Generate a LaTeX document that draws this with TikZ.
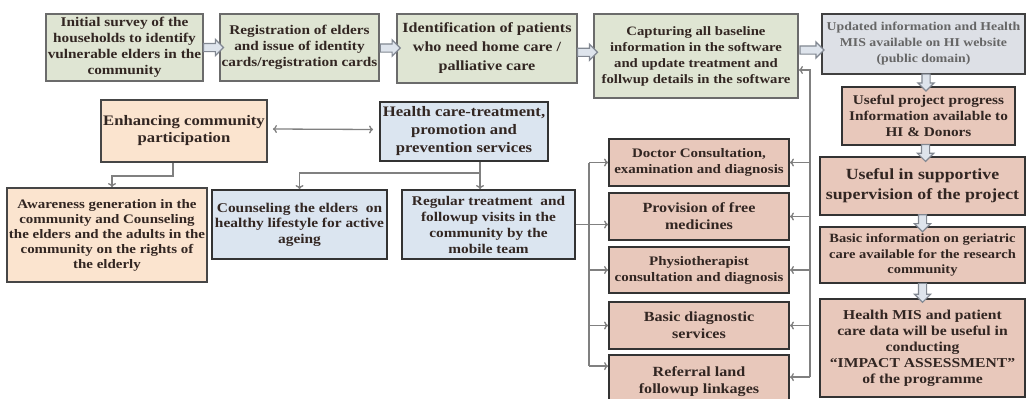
\documentclass[tikz,border=0pt]{standalone}
\usepackage{fontspec}
\setmainfont{Liberation Serif}[FakeStretch=1.15]
\usetikzlibrary{shapes.arrows,arrows.meta,calc}
\definecolor{SurveyGreen}{RGB}{223,229,211}
\definecolor{WebGrey}{RGB}{221,224,230}
\definecolor{ServPink}{RGB}{232,200,187}
\definecolor{CommPeach}{RGB}{251,228,207}
\definecolor{CareBlue}{RGB}{219,229,240}
\definecolor{EdgeGrey}{RGB}{70,70,70}
\definecolor{LineGrey}{RGB}{128,128,128}
\definecolor{FatFill}{RGB}{222,228,236}
\definecolor{FatEdge}{RGB}{130,136,146}
\definecolor{InkDark}{RGB}{50,38,34}

\begin{document}
\begin{tikzpicture}[x=1pt, y=-1pt, >={To[length=4pt,width=8pt]},
  fs/.style 2 args={font=\bfseries\fontsize{#1}{#2}\selectfont},
  box/.style={draw=EdgeGrey, line width=1.8pt, align=center, inner sep=2pt, text=InkDark, fs={13.3}{16}},
  greenbox/.style={box, fill=SurveyGreen, draw=EdgeGrey!80},
  webbox/.style={box, fill=WebGrey, draw=black!75, text=black!60},
  pinkbox/.style={box, fill=ServPink, draw=black!80},
  peachbox/.style={box, fill=CommPeach},
  bluebox/.style={box, fill=CareBlue, draw=black!80},
  conn/.style={draw=LineGrey, line width=1.3pt},
  fatarrow/.style={single arrow, draw=FatEdge, fill=FatFill, line width=1.2pt, minimum height=20pt, inner sep=3.5pt, text height=0pt, text depth=0pt, text width=0pt, single arrow head extend=4pt}]
\fill[white] (0,0) rectangle (1029,399);
\useasboundingbox (0,0) rectangle (1029,399);
\clip (0,0) rectangle (1029,399);

% top row
\node[greenbox, minimum width=155pt, minimum height=67pt] (init) at (124.5,47.5) {Initial survey of the\\households to identify\\vulnerable elders in the\\community};
\node[greenbox, minimum width=157pt, minimum height=67pt] (reg) at (299.5,47.5) {Registration of elders\\and issue of identity\\cards/registration cards};
\node[greenbox, fs={14}{19}, minimum width=180pt, minimum height=69pt] (ident) at (487,48.5) {Identification of patients\\who need home care /\\palliative care};
\node[greenbox, fs={12.8}{16}, minimum width=204pt, minimum height=84pt] (capt) at (696,56) {Capturing all baseline\\information in the software\\and update treatment and\\follwup details in the software};
\node[webbox, fs={12}{16}, minimum width=203pt, minimum height=60pt] (upd) at (923.5,44) {Updated information and Health\\MIS available on HI website\\(public domain)};

% right column
\node[pinkbox, minimum width=173pt, minimum height=58pt] (prog) at (928.5,116) {Useful project progress\\Information available to\\HI \& Donors};
\node[pinkbox, fs={15.5}{20}, line width=2.4pt, minimum width=205pt, minimum height=58pt] (superv) at (922.5,186) {Useful in supportive\\supervision of the project};
\node[pinkbox, fs={12.6}{15.5}, minimum width=205pt, minimum height=56pt] (geri) at (922.5,255) {Basic information on geriatric\\care available for the research\\community};
\node[pinkbox, fs={13.6}{16}, line width=2.6pt, minimum width=205pt, minimum height=98pt] (mis) at (922.5,348) {Health MIS and patient\\care data will be useful in\\conducting\\“IMPACT ASSESSMENT”\\of the programme};

% services
\node[pinkbox, fs={13}{16}, minimum width=180pt, minimum height=47pt] (doc) at (699,162.5) {Doctor Consultation,\\examination and diagnosis};
\node[pinkbox, fs={14}{17}, minimum width=180pt, minimum height=47pt] (prov) at (699,216.5) {Provision of free\\medicines};
\node[pinkbox, fs={13}{16}, minimum width=180pt, minimum height=46pt] (physio) at (699,270) {Physiotherapist\\consultation and diagnosis};
\node[pinkbox, fs={14}{17}, minimum width=180pt, minimum height=47pt] (diag) at (699,325.5) {Basic diagnostic\\services};
\node[pinkbox, fs={14}{17}, minimum width=180pt, minimum height=54pt] (refer) at (699,382) {Referral land\\followup linkages};

% community and care
\node[peachbox, fs={14.5}{17}, minimum width=166pt, minimum height=62pt] (enh) at (184,131) {Enhancing community\\participation};
\node[bluebox, fs={14.5}{18}, minimum width=168pt, minimum height=59pt] (hc) at (464,131.5) {Health care-treatment,\\promotion and\\prevention services};
\node[peachbox, fs={13}{15}, minimum width=200pt, minimum height=94pt] (aware) at (107,235) {Awareness generation in the\\community and Counseling\\the elders and the adults in the\\community on the rights of\\the elderly};
\node[bluebox, fs={13.4}{15.5}, minimum width=175pt, minimum height=69pt] (couns) at (299.5,224.5) {Counseling the elders\ \ on\\healthy lifestyle for active\\ageing};
\node[bluebox, minimum width=173pt, minimum height=69pt] (regular) at (488.5,224.5) {Regular treatment\ \ and\\followup visits in the\\community by the\\mobile team};

% block arrows
\node[fatarrow] (f1) at ($(init.east)!0.5!(reg.west)$) {};
\node[fatarrow] (f2) at ($(reg.east)!0.5!(ident.west)$) {};
\node[fatarrow] (f3) at ($(ident.east)!0.5!(capt.west)$) {};
\node[fatarrow, minimum height=24pt] (f4) at ($(capt.east)!0.5!(upd.west)$) {};
\node[fatarrow, shape border rotate=270, minimum height=17pt] (f5) at ($(upd.south)!0.5!(prog.north)$) {};
\node[fatarrow, shape border rotate=270, minimum height=17pt] (f6) at ($(prog.south)!0.5!(superv.north)$) {};
\node[fatarrow, shape border rotate=270, minimum height=17pt] (f7) at ($(superv.south)!0.5!(geri.north)$) {};
\node[fatarrow, shape border rotate=270, minimum height=19pt] (f8) at ($(geri.south)!0.5!(mis.north)$) {};

% connectors
\draw[conn,<->] ([xshift=5pt,yshift=2pt]enh.east) -- ([xshift=-6pt,yshift=2pt]hc.west);
\draw[conn,->] ([xshift=-11pt]enh.south) -- ++(0,13) -| ([xshift=5pt]aware.north);
\coordinate (hcOut) at ([xshift=16pt]hc.south);
\draw[conn,->] (hcOut) -- (hcOut |- regular.north);
\draw[conn,->] (hcOut) ++(0,11) -| (couns.north);

% service buses
\coordinate (busL) at (589,0);
\coordinate (busR) at (810,0);
\coordinate (refL) at ([yshift=-12pt]refer.north west);
\coordinate (refR) at ([yshift=-23pt]refer.north east);
\coordinate (capIn) at ([yshift=-14pt]capt.east);
\draw[conn] (busL |- doc.west) -- (busL |- refL);
\draw[conn,->] (regular.east) -- (regular.east -| prov.west);
\foreach \b in {doc,physio,diag}
  \draw[conn,->] (busL |- \b.west) -- (\b.west);
\draw[conn,->] (busL |- refL) -- (refL);
\draw[conn,->] (busR |- refR) -- (busR |- capIn) -- (capIn);
\foreach \b in {doc,prov,physio,diag}
  \draw[conn,->] (busR |- \b.east) -- (\b.east);
\draw[conn,->] (busR |- refR) -- (refR);
\end{tikzpicture}
\end{document}
